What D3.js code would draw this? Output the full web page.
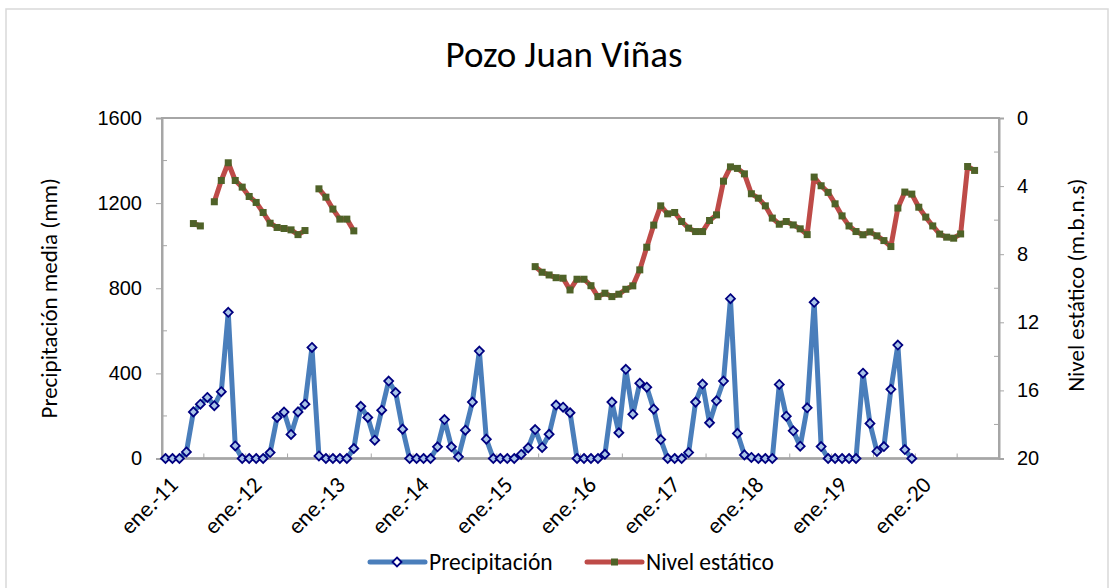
<!DOCTYPE html>
<html>
<head>
<meta charset="utf-8">
<script src="https://cdn.jsdelivr.net/npm/d3@7"></script>
<style>
  body { margin: 0; background: #fff; }
  svg { font-family: Carlito, Calibri, Lato, sans-serif; }
</style>
</head>
<body>
<svg width="1119" height="588"></svg>
<script>
let width = 1119;
let height = 588;

// meses y años (categorías mensuales ene.-11 a dic.-20)
const meses = ["ene.", "feb.", "mar.", "abr.", "may.", "jun.", "jul.", "ago.", "sep.", "oct.", "nov.", "dic."];
const anios = ["11", "12", "13", "14", "15", "16", "17", "18", "19", "20"];
const categorias = [];
anios.forEach(a => meses.forEach(m => categorias.push(m + "-" + a)));

// precipitacion media (mm)
const precipitacion = [
  0, 0, 0, 31, 219, 255, 287, 248, 314, 687, 59, 0,
  0, 0, 0, 28, 193, 218, 113, 219, 255, 522, 12, 0,
  0, 0, 0, 47, 245, 193, 86, 227, 364, 310, 138, 0,
  0, 0, 0, 55, 183, 55, 8, 133, 265, 505, 91, 0,
  0, 0, 0, 19, 50, 136, 52, 114, 251, 241, 215, 0,
  0, 0, 0, 20, 265, 121, 419, 208, 354, 335, 232, 89,
  0, 0, 0, 28, 265, 350, 168, 271, 364, 751, 118, 17,
  5, 0, 0, 0, 348, 199, 130, 58, 238, 734, 56, 0,
  0, 0, 0, 0, 401, 165, 33, 56, 325, 533, 42, 0,
  null, null, null, null, null, null, null, null, null, null, null, null
];

// nivel estatico (m.b.n.s)
const nivel = [
  null, null, null, null, 6.20, 6.34, null, 4.92, 3.67, 2.63, 3.67, 4.06,
  4.61, 4.96, 5.55, 6.18, 6.43, 6.49, 6.57, 6.85, 6.61, null, 4.16, 4.65,
  5.35, 5.94, 5.94, 6.63, null, null, null, null, null, null, null, null,
  null, null, null, null, null, null, null, null, null, null, null, null,
  null, null, null, null, null, 8.73, 9.06, 9.22, 9.38, 9.41, 10.1, 9.47,
  9.47, 9.85, 10.49, 10.29, 10.49, 10.35, 10.06, 9.86, 8.92, 7.59, 6.29, 5.16,
  5.63, 5.55, 6.08, 6.47, 6.67, 6.67, 6.02, 5.69, 3.71, 2.87, 2.96, 3.28,
  4.45, 4.71, 5.16, 5.88, 6.24, 6.08, 6.28, 6.51, 6.85, 3.47, 3.98, 4.37,
  5.04, 5.75, 6.34, 6.67, 6.86, 6.69, 6.92, 7.20, 7.55, 5.29, 4.35, 4.47,
  5.24, 5.82, 6.34, 6.82, 7.00, 7.06, 6.81, 2.85, 3.08, null, null, null
];

const ticksIzq = [0, 400, 800, 1200, 1600];
const ticksDer = [0, 4, 8, 12, 16, 20];

const svg = d3.select("svg");
const margin = { left: 162, right: 999, top: 118, bottom: 458.5 };

// borde exterior
svg.append("rect")
  .attr("x", 6).attr("y", 9)
  .attr("width", 1102).attr("height", 600)
  .attr("fill", "none").attr("stroke", "#d9d9d9").attr("stroke-width", 1.5);

// escalas
const x = d3.scaleBand().domain(categorias).range([margin.left, margin.right]).padding(0);
const cx = c => x(c) + x.bandwidth() / 2;
const yP = d3.scaleLinear().domain([0, 1600]).range([margin.bottom, margin.top]);
const yN = d3.scaleLinear().domain([0, 20]).range([margin.top, margin.bottom]);

const ejeColor = "#a6a6a6";

// caja del area de grafico
svg.append("rect")
  .attr("x", margin.left).attr("y", margin.top)
  .attr("width", margin.right - margin.left).attr("height", margin.bottom - margin.top)
  .attr("fill", "none").attr("stroke", ejeColor).attr("stroke-width", 2);

// eje izquierdo
const ejeIzq = svg.append("g").attr("transform", `translate(${margin.left},0)`)
  .call(d3.axisLeft(yP).tickValues(ticksIzq).tickSize(6).tickPadding(14).tickFormat(d3.format("d")));
// ticks menores hacia dentro
svg.append("g").selectAll("line").data(d3.range(200, 1600, 400)).enter().append("line")
  .attr("x1", margin.left).attr("x2", margin.left + 5)
  .attr("y1", d => yP(d)).attr("y2", d => yP(d))
  .attr("stroke", ejeColor).attr("stroke-width", 1);

// eje derecho
const ejeDer = svg.append("g").attr("transform", `translate(${margin.right},0)`)
  .call(d3.axisRight(yN).tickValues(ticksDer).tickSize(5).tickPadding(13));
svg.append("g").selectAll("line").data(d3.range(2, 20, 4)).enter().append("line")
  .attr("x1", margin.right - 5).attr("x2", margin.right)
  .attr("y1", d => yN(d)).attr("y2", d => yN(d))
  .attr("stroke", ejeColor).attr("stroke-width", 1);

[ejeIzq, ejeDer].forEach(g => {
  g.select(".domain").attr("stroke", ejeColor).attr("stroke-width", 2);
  g.selectAll(".tick line").attr("stroke", ejeColor).attr("stroke-width", 1);
  g.selectAll(".tick text").attr("fill", "#000").attr("font-size", 20).attr("font-family", null);
});

// eje x: marcas cada 6 meses, etiquetas cada enero
const marcasX = categorias.filter((c, i) => i > 0 && i % 6 === 0);
svg.append("g").selectAll("line").data(marcasX).enter().append("line")
  .attr("x1", d => x(d)).attr("x2", d => x(d))
  .attr("y1", margin.bottom).attr("y2", margin.bottom - 5)
  .attr("stroke", ejeColor).attr("stroke-width", 1);
svg.append("line")
  .attr("x1", margin.left).attr("x2", margin.right)
  .attr("y1", margin.bottom).attr("y2", margin.bottom)
  .attr("stroke", ejeColor).attr("stroke-width", 2.5);

const etiquetasX = categorias.filter((c, i) => i % 12 === 0 && i < 120);
svg.append("g").selectAll("text").data(etiquetasX).enter().append("text")
  .attr("transform", d => `translate(${cx(d) + 8},${margin.bottom + 22}) rotate(-45)`)
  .attr("text-anchor", "end")
  .attr("dy", "0.35em")
  .attr("font-size", 23)
  .text(d => d);

// lineas
const lineaP = d3.line()
  .defined(d => d[1] !== null)
  .x(d => cx(d[0])).y(d => yP(d[1]));
const lineaN = d3.line()
  .defined(d => d[1] !== null)
  .x(d => cx(d[0])).y(d => yN(d[1]));

const datosP = categorias.map((c, i) => [c, precipitacion[i]]);
const datosN = categorias.map((c, i) => [c, nivel[i]]);

svg.append("path").attr("d", lineaP(datosP))
  .attr("fill", "none").attr("stroke", "#4a7ebb").attr("stroke-width", 5)
  .attr("stroke-linejoin", "round");
svg.append("path").attr("d", lineaN(datosN))
  .attr("fill", "none").attr("stroke", "#be4b48").attr("stroke-width", 5)
  .attr("stroke-linejoin", "round");

const rombo = "M0,-4.5L4.5,0L0,4.5L-4.5,0Z";
svg.append("g").selectAll("path").data(datosP.filter(d => d[1] !== null)).enter().append("path")
  .attr("d", rombo)
  .attr("transform", d => `translate(${cx(d[0])},${yP(d[1])})`)
  .attr("fill", "#a9c4e8").attr("stroke", "#000080").attr("stroke-width", 1.8);

svg.append("g").selectAll("rect").data(datosN.filter(d => d[1] !== null)).enter().append("rect")
  .attr("x", d => cx(d[0]) - 3.5).attr("y", d => yN(d[1]) - 3.5)
  .attr("width", 7).attr("height", 7)
  .attr("fill", "#4f6228");

// titulos
svg.append("text").attr("x", 564).attr("y", 67)
  .attr("text-anchor", "middle").attr("font-size", 37)
  .text("Pozo Juan Viñas");

svg.append("text")
  .attr("transform", `translate(57,${(margin.top + margin.bottom) / 2 + 10}) rotate(-90)`)
  .attr("text-anchor", "middle").attr("font-size", 23)
  .text("Precipitación media (mm)");

svg.append("text")
  .attr("transform", `translate(1084,${(margin.top + margin.bottom) / 2 - 3}) rotate(-90)`)
  .attr("text-anchor", "middle").attr("font-size", 23)
  .text("Nivel estático (m.b.n.s)");

// leyenda
const leyenda = [
  { nombre: "Precipitación", x: 370, color: "#4a7ebb" },
  { nombre: "Nivel estático", x: 587, color: "#be4b48" }
];
const gl = svg.append("g");
leyenda.forEach((l, k) => {
  gl.append("line").attr("x1", l.x).attr("x2", l.x + 55)
    .attr("y1", 562).attr("y2", 562)
    .attr("stroke", l.color).attr("stroke-width", 5).attr("stroke-linecap", "round");
  if (k === 0) {
    gl.append("path").attr("d", rombo).attr("transform", `translate(${l.x + 27},562)`)
      .attr("fill", "#fff").attr("stroke", "#000080").attr("stroke-width", 1.8);
  } else {
    gl.append("rect").attr("x", l.x + 24).attr("y", 558.5).attr("width", 7).attr("height", 7)
      .attr("fill", "#4f6228");
  }
  gl.append("text").attr("x", l.x + 59).attr("y", 570).attr("font-size", 23.5).text(l.nombre);
});
</script>
</body>
</html>
